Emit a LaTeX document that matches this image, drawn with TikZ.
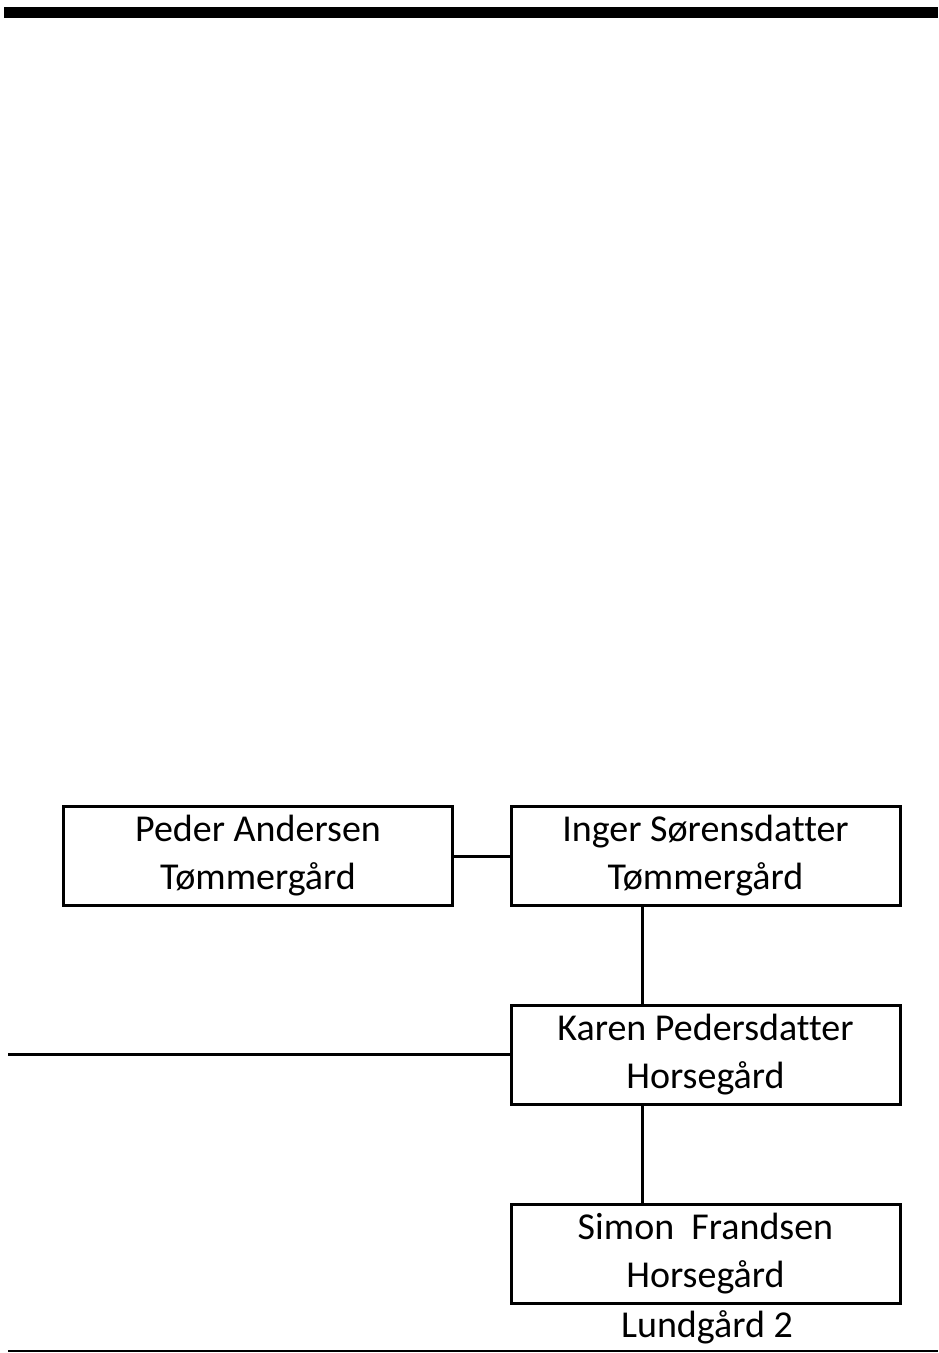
\documentclass[tikz,border=0pt]{standalone}
\usepackage{fontspec}
\setmainfont{Carlito}[Ligatures=CommonOff]
\begin{document}
\begin{tikzpicture}[x=1pt,y=-1pt,
  person/.style={draw, line width=3pt, minimum width=389pt, minimum height=99pt,
    inner sep=0pt, align=center, font=\fontsize{38}{48}\selectfont},
  conn/.style={line width=3pt},
  plain/.style={inner sep=0pt, font=\fontsize{38}{48}\selectfont}]
\useasboundingbox (0,0) rectangle (938,1353);
\fill (4,7) rectangle (938,18);
\node[person] (peder) at (258,856) {Peder Andersen\\Tømmergård};
\node[person] (inger) at (705.5,856) {Inger Sørensdatter\\Tømmergård};
\node[person] (karen) at (705.5,1054.5) {Karen Pedersdatter\\Horsegård};
\node[person] (simon) at (705.5,1254) {Simon\ \ Frandsen\\Horsegård};
\node[plain, anchor=base] (lund) at (707,1337) {Lundgård 2};
\coordinate (vx) at (642,0);
\coordinate (lft) at (8,1054.5);
\coordinate (bl) at (8,1351);
\coordinate (br) at (938,1351);
\draw[conn] (peder.east) -- (inger.west);
\draw[conn] (inger.south -| vx) -- (karen.north -| vx);
\draw[conn] (karen.south -| vx) -- (simon.north -| vx);
\draw[conn] (lft) -- (karen.west);
\draw[line width=2pt] (bl) -- (br);
\end{tikzpicture}
\end{document}
